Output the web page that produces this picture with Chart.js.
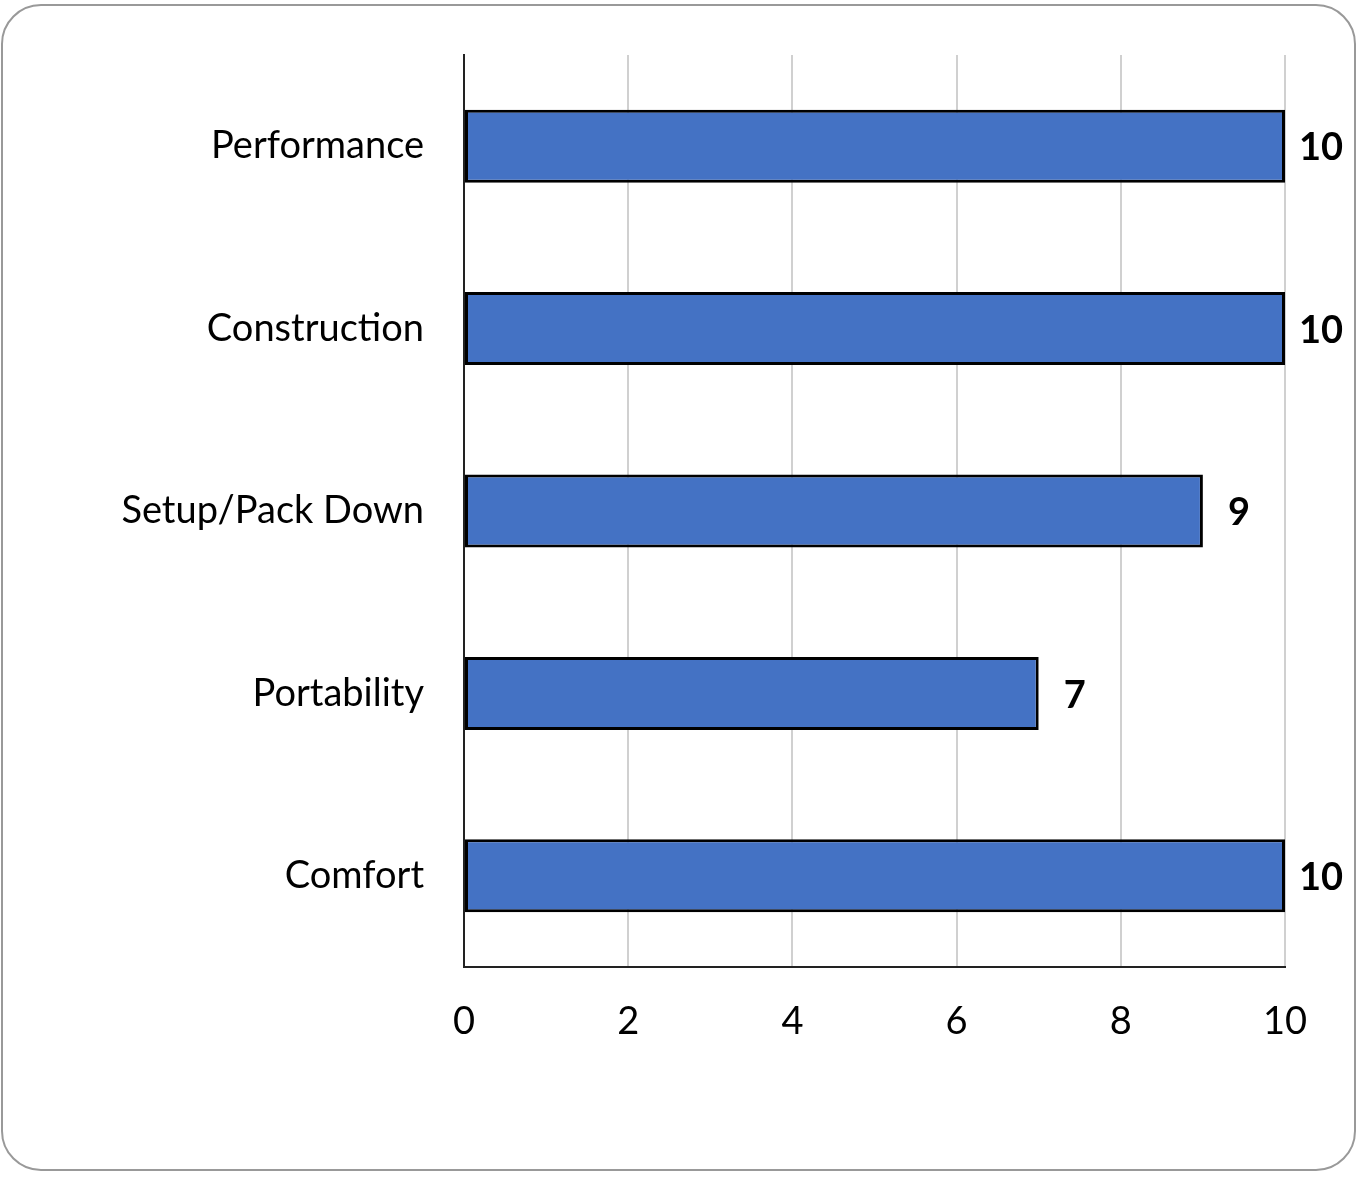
<!DOCTYPE html>
<html>
<head>
<meta charset="utf-8">
<script src="https://cdn.jsdelivr.net/npm/chart.js@4"></script>
<style>
	body { margin: 0; background: #fff; }
	.khung {
		position: absolute; left: 1px; top: 4px; width: 1351px; height: 1163px;
		border: 2px solid #999; border-radius: 40px;
	}
	canvas { position: absolute; left: 0; top: 0; }
</style>
</head>
<body>
<div class="khung"></div>
<canvas id="bieuDo" width="1361" height="1177"></canvas>
<script>
var danhMuc = ['Performance', 'Construction', 'Setup/Pack Down', 'Portability', 'Comfort'];
var diem = [10, 10, 9, 7, 10];
var nhanTrucX = [0, 2, 4, 6, 8, 10];

var phongChu = 'Lato, "Open Sans", sans-serif';

// ve so o cuoi moi thanh
var nhanGiaTri = {
	id: 'nhanGiaTri',
	afterDatasetsDraw(chart) {
		var ctx = chart.ctx;
		var meta = chart.getDatasetMeta(0);
		ctx.save();
		ctx.font = 'bold 38px ' + phongChu;
		ctx.fillStyle = '#000';
		ctx.textAlign = 'center';
		ctx.textBaseline = 'middle';
		meta.data.forEach((bar, i) => {
			ctx.fillText(diem[i], bar.x + 36, bar.y + 2);
		});
		ctx.restore();
	}
};

new Chart(document.getElementById('bieuDo').getContext('2d'), {
	type: 'bar',
	data: {
		labels: danhMuc,
		datasets: [{
			data: diem,
			backgroundColor: '#4472C4',
			borderColor: '#000',
			borderWidth: 3,
			borderSkipped: false,
			categoryPercentage: 0.4,
			barPercentage: 1
		}]
	},
	options: {
		indexAxis: 'y',
		responsive: false,
		animation: false,
		layout: { padding: { top: 55, right: 76, left: 0, bottom: 0 } },
		plugins: { legend: { display: false }, tooltip: { enabled: false } },
		scales: {
			x: {
				min: 0, max: 10,
				afterBuildTicks: (s) => { s.ticks = nhanTrucX.map(v => ({ value: v })); },
				afterFit: (s) => { s.height = 1177 - 967; s.paddingLeft = 0; s.paddingRight = 0; },
				grid: { color: '#d0d0d0', lineWidth: 2, drawTicks: false },
				border: { color: '#222', width: 2 },
				ticks: { padding: 32, color: '#000', font: { family: phongChu, size: 38 } }
			},
			y: {
				afterFit: (s) => { s.width = 464; s.paddingTop = 0; s.paddingBottom = 0; },
				grid: { display: false, drawTicks: false },
				border: { color: '#222', width: 2 },
				ticks: { padding: 40, color: '#000', font: { family: phongChu, size: 38 } }
			}
		}
	},
	plugins: [nhanGiaTri]
});
</script>
</body>
</html>
